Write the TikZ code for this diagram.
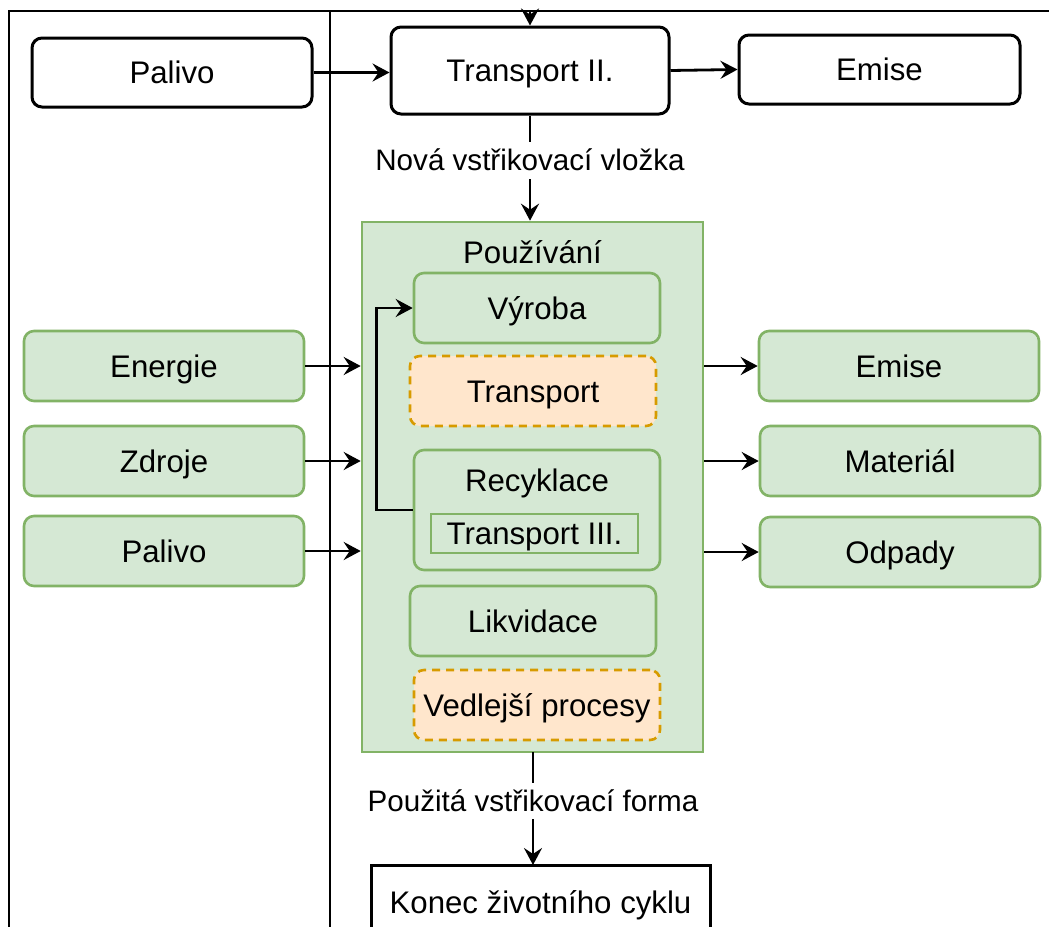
\documentclass[tikz,border=0pt]{standalone}
\usepackage{fontspec}
\setmainfont{Liberation Sans}
\usetikzlibrary{arrows.meta}
\definecolor{gfill}{HTML}{D5E8D4}
\definecolor{gline}{HTML}{82B366}
\definecolor{ofill}{HTML}{FFE6CC}
\definecolor{oline}{HTML}{D79B00}
\tikzset{
  box/.style={rectangle, inner sep=0pt, align=center,
    text height=14pt, text depth=2.8pt,
    font=\fontsize{15.6}{18}\selectfont},
  blkbox/.style={box, draw=black, fill=white, line width=1.5pt, rounded corners=5pt},
  grnbox/.style={box, draw=gline, fill=gfill, line width=1.3pt, rounded corners=5pt},
  orgbox/.style={box, draw=oline, fill=ofill, line width=1.3pt, rounded corners=5pt,
    dash pattern=on 4pt off 3pt},
  lbl/.style={fill=white, inner sep=1.5pt, text height=13pt, text depth=2.4pt,
    font=\fontsize{14.8}{17}\selectfont},
  arr/.style={-{Stealth[length=8.5pt,width=9pt,inset=3pt]}, line width=1.4pt},
}
\begin{document}
\begin{tikzpicture}[x=0.5pt, y=-0.5pt]
\useasboundingbox (0,0) rectangle (1049,926);
\begin{scope}
\clip (0,0) rectangle (1049,926);

% frame and divider
\draw[line width=1.1pt] (9,940) -- (9,11) -- (1060,11);
\draw[line width=1.4pt] (330,11) -- (330,940);

% top row
\node[blkbox, minimum width=140pt, minimum height=34.5pt] (pal1) at (172,72.5) {Palivo};
\node[blkbox, minimum width=139pt, minimum height=43.5pt] (t2) at (530,70.5) {Transport II.};
\node[blkbox, minimum width=140.5pt, minimum height=34.5pt] (em1) at (879.5,69.5) {Emise};
\coordinate (topin) at (530,11);

% main process block
\node[box, draw=gline, fill=gfill, line width=1.3pt, minimum width=170.5pt, minimum height=265pt] (pouz) at (532.5,487) {};
\node[box] (pouzt) at (532.5,252) {Používání};
\node[grnbox, minimum width=123pt, minimum height=35pt] (vyr) at (537,308) {Výroba};
\node[orgbox, minimum width=123pt, minimum height=35pt] (trn) at (533,391) {Transport};
\node[grnbox, minimum width=123pt, minimum height=60pt] (recy) at (537,510) {};
\node[box] (recyt) at (537,480) {Recyklace};
\node[box, draw=gline, fill=gfill, line width=1.3pt, minimum width=103.5pt, minimum height=19.5pt] (t3) at (534.5,533.5) {Transport III.};
\node[grnbox, minimum width=123pt, minimum height=35pt] (likv) at (533,621) {Likvidace};
\node[orgbox, minimum width=123pt, minimum height=35pt] (vedl) at (537,705) {Vedlejší procesy};

% inputs
\node[grnbox, minimum width=140pt, minimum height=35pt] (ene) at (164,366) {Energie};
\node[grnbox, minimum width=140pt, minimum height=35pt] (zdr) at (164,461) {Zdroje};
\node[grnbox, minimum width=140pt, minimum height=35pt] (pal2) at (164,551) {Palivo};

% outputs
\node[grnbox, minimum width=140pt, minimum height=35pt] (em2) at (899,366) {Emise};
\node[grnbox, minimum width=140pt, minimum height=35pt] (mat) at (900,461) {Materiál};
\node[grnbox, minimum width=140pt, minimum height=35pt] (odp) at (900,552) {Odpady};

% end of life
\node[box, draw=black, fill=white, line width=1.5pt, minimum width=169.5pt, minimum height=37.5pt] (konec) at (540.5,902.5) {Konec životního cyklu};

% connectors
\draw[arr] (topin) -- (t2.north);
\draw[arr] (pal1.east) -- (pal1.east -| t2.west);
\draw[arr] (t2.east) -- (em1.west);
\draw[arr] (t2.south) -- (t2.south |- pouz.north)
  node[lbl, pos=0.426] (lab1) {Nová vstřikovací vložka};
\draw[arr] (recy.west) -- ++(-36,0) |- (vyr.west);
\draw[arr] (ene.east) -- (ene.east -| pouz.west);
\draw[arr] (zdr.east) -- (zdr.east -| pouz.west);
\draw[arr] (pal2.east) -- (pal2.east -| pouz.west);
\draw[arr] (em2.west -| pouz.east) -- (em2.west);
\draw[arr] (mat.west -| pouz.east) -- (mat.west);
\draw[arr] (odp.west -| pouz.east) -- (odp.west);
\draw[arr] (533,752) -- (533,865)
  node[lbl, pos=0.434] (lab2) {Použitá vstřikovací forma};
\end{scope}
\end{tikzpicture}
\end{document}
